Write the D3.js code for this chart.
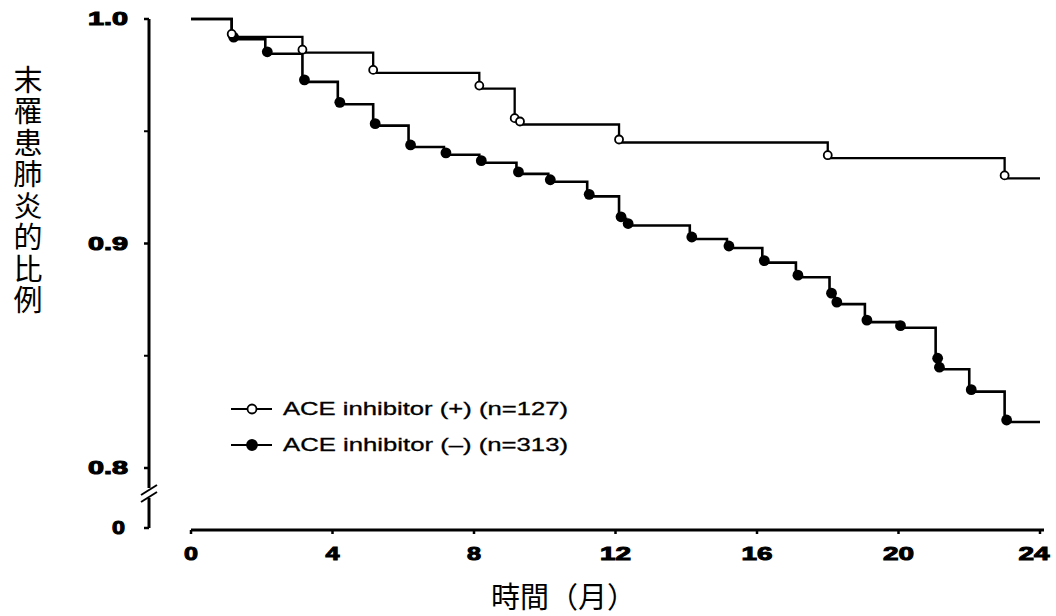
<!DOCTYPE html>
<html>
<head>
<meta charset="utf-8">
<script src="https://cdn.jsdelivr.net/npm/d3@7"></script>
<style>
  html, body { margin: 0; padding: 0; background: #fff; }
  svg { display: block; }
</style>
</head>
<body>
<div id="chart"></div>
<script>
// ---- Data ----
const monthTicks = [0, 4, 8, 12, 16, 20, 24];
const survivalTicks = [0.8, 0.9, 1.0];
const survivalTickLabels = ["0.8", "0.9", "1.0"];
const minorSurvivalTicks = [0.85, 0.95];
const yTitle = "末罹患肺炎的比例";
const xTitle = "時間（月）";
const seriesNames = ["ACE inhibitor (+) (n=127)", "ACE inhibitor (–) (n=313)"];

// ACE inhibitor (+): event months and survival after each event
const plusMonths   = [1.15, 3.15, 5.15, 8.15, 9.15, 9.3, 12.1, 18.0, 23.0];
const plusSurvival = [0.992, 0.985, 0.976, 0.969, 0.9545, 0.953, 0.945, 0.938, 0.929];

// ACE inhibitor (–)
const minusMonths   = [1.15, 2.1, 3.15, 4.15, 5.15, 6.15, 7.15, 8.15, 9.2, 10.1, 11.2, 12.1, 12.3,
                       14.1, 15.15, 16.15, 17.1, 18.05, 18.2, 19.05, 20.0, 21.05, 21.1, 22.0, 23.0];
const minusSurvival = [0.991, 0.9845, 0.972, 0.962, 0.9525, 0.943, 0.9395, 0.936, 0.931, 0.9275, 0.921, 0.911, 0.908,
                       0.902, 0.898, 0.8915, 0.885, 0.877, 0.873, 0.865, 0.8625, 0.848, 0.844, 0.834, 0.8205];
const followUpEnd = 24;

// ---- Layout ----
const W = 1056, H = 616;
const svg = d3.select("#chart").append("svg").attr("width", W).attr("height", H);

const x = d3.scaleLinear().domain([0, 24]).range([191, 1040]);
const y = d3.scaleLinear().domain([0.8, 1.0]).range([468, 19]);
const yZero = 528;   // position of the broken-axis "0"
const axisX = 149;
const axisY = 530;

const tickFont = "'Liberation Sans', Arial, sans-serif";
const cjkFont = "'Noto Sans CJK TC', 'Noto Sans CJK SC', sans-serif";

function boldLabel(sel) {
  return sel.attr("font-family", tickFont).attr("font-weight", 700)
    .attr("stroke", "#000").attr("stroke-width", 1).attr("paint-order", "stroke")
    .attr("lengthAdjust", "spacingAndGlyphs");
}

// ---- Y axis (with break) ----
const yAxisG = svg.append("g");
yAxisG.append("line").attr("x1", axisX).attr("x2", axisX).attr("y1", y(1.0)).attr("y2", 488)
  .attr("stroke", "#000").attr("stroke-width", 3);
yAxisG.append("line").attr("x1", axisX).attr("x2", axisX).attr("y1", 498).attr("y2", yZero)
  .attr("stroke", "#000").attr("stroke-width", 3);
[490, 497].forEach(v => {
  yAxisG.append("line").attr("x1", axisX - 8).attr("x2", axisX + 8).attr("y1", v + 5).attr("y2", v - 5)
    .attr("stroke", "#000").attr("stroke-width", 2);
});
survivalTicks.forEach((t, i) => {
  yAxisG.append("line").attr("x1", axisX - 5).attr("x2", axisX).attr("y1", y(t)).attr("y2", y(t))
    .attr("stroke", "#000").attr("stroke-width", 2.5);
  boldLabel(yAxisG.append("text")).attr("x", 128).attr("y", y(t)).attr("text-anchor", "end")
    .attr("dominant-baseline", "central").attr("font-size", 18)
    .attr("textLength", 40).text(survivalTickLabels[i]);
});
minorSurvivalTicks.forEach(t => {
  yAxisG.append("line").attr("x1", axisX - 5).attr("x2", axisX).attr("y1", y(t)).attr("y2", y(t))
    .attr("stroke", "#000").attr("stroke-width", 2);
});
yAxisG.append("line").attr("x1", axisX - 5).attr("x2", axisX).attr("y1", yZero).attr("y2", yZero)
  .attr("stroke", "#000").attr("stroke-width", 2.5);
boldLabel(yAxisG.append("text")).attr("x", 125).attr("y", yZero).attr("text-anchor", "end")
  .attr("dominant-baseline", "central").attr("font-size", 18)
  .attr("textLength", 13).text("0");

// ---- X axis ----
const xAxisG = svg.append("g");
xAxisG.append("line").attr("x1", x(0)).attr("x2", x(24) + 4).attr("y1", axisY).attr("y2", axisY)
  .attr("stroke", "#000").attr("stroke-width", 3);
monthTicks.forEach(t => {
  xAxisG.append("line").attr("x1", x(t)).attr("x2", x(t)).attr("y1", axisY).attr("y2", axisY + 4)
    .attr("stroke", "#000").attr("stroke-width", 2.5);
  const label = String(t);
  boldLabel(xAxisG.append("text")).attr("x", t === 24 ? x(t) - 6 : x(t)).attr("y", 553)
    .attr("text-anchor", "middle").attr("dominant-baseline", "central").attr("font-size", 19)
    .attr("textLength", label.length === 1 ? 14 : 31).text(label);
});

// ---- Titles ----
svg.append("text").attr("x", 491).attr("y", 595).attr("dominant-baseline", "central")
  .attr("font-family", cjkFont).attr("font-weight", 400).attr("font-size", 29)
  .attr("fill", "#000").text(xTitle);

svg.append("text").attr("x", 28).attr("y", 65)
  .style("writing-mode", "vertical-rl")
  .attr("font-family", cjkFont).attr("font-weight", 400).attr("font-size", 29)
  .attr("letter-spacing", 2.5).attr("fill", "#000").text(yTitle);

// ---- Step curves ----
const line = d3.line().x(d => x(d[0])).y(d => y(d[1])).curve(d3.curveStepAfter);
function stepData(months, surv) {
  const pts = [[0, 1.0]];
  months.forEach((m, i) => pts.push([m, surv[i]]));
  pts.push([followUpEnd, surv[surv.length - 1]]);
  return pts;
}
const plusPts = stepData(plusMonths, plusSurvival);
const minusPts = stepData(minusMonths, minusSurvival);

svg.append("path").attr("d", line(minusPts)).attr("fill", "none").attr("stroke", "#000").attr("stroke-width", 2.6);
svg.append("path").attr("d", line(plusPts)).attr("fill", "none").attr("stroke", "#000").attr("stroke-width", 2.3);

// markers
svg.append("g").selectAll("circle").data(minusMonths.map((m, i) => [m, minusSurvival[i]]))
  .join("circle").attr("cx", d => x(d[0]) + 2).attr("cy", d => y(d[1]) - 2).attr("r", 5.4).attr("fill", "#000");
svg.append("g").selectAll("circle").data(plusMonths.map((m, i) => [m, plusSurvival[i]]))
  .join("circle").attr("cx", d => x(d[0])).attr("cy", d => y(d[1]) - 3).attr("r", 4)
  .attr("fill", "#fff").attr("stroke", "#000").attr("stroke-width", 1.8);

// ---- Legend ----
const legend = svg.append("g");
const legendRows = [409, 445];
seriesNames.forEach((name, i) => {
  const ly = legendRows[i];
  legend.append("line").attr("x1", 231).attr("x2", 272).attr("y1", ly).attr("y2", ly)
    .attr("stroke", "#000").attr("stroke-width", 2);
  legend.append("circle").attr("cx", 252).attr("cy", ly).attr("r", i === 0 ? 4.5 : 5)
    .attr("fill", i === 0 ? "#fff" : "#000").attr("stroke", "#000").attr("stroke-width", 1.8);
  legend.append("text").attr("x", 283).attr("y", ly).attr("dominant-baseline", "central")
    .attr("font-family", tickFont).attr("font-size", 18)
    .attr("stroke", "#000").attr("stroke-width", 0.3)
    .attr("textLength", 285).attr("lengthAdjust", "spacingAndGlyphs")
    .text(name);
});
</script>
</body>
</html>
